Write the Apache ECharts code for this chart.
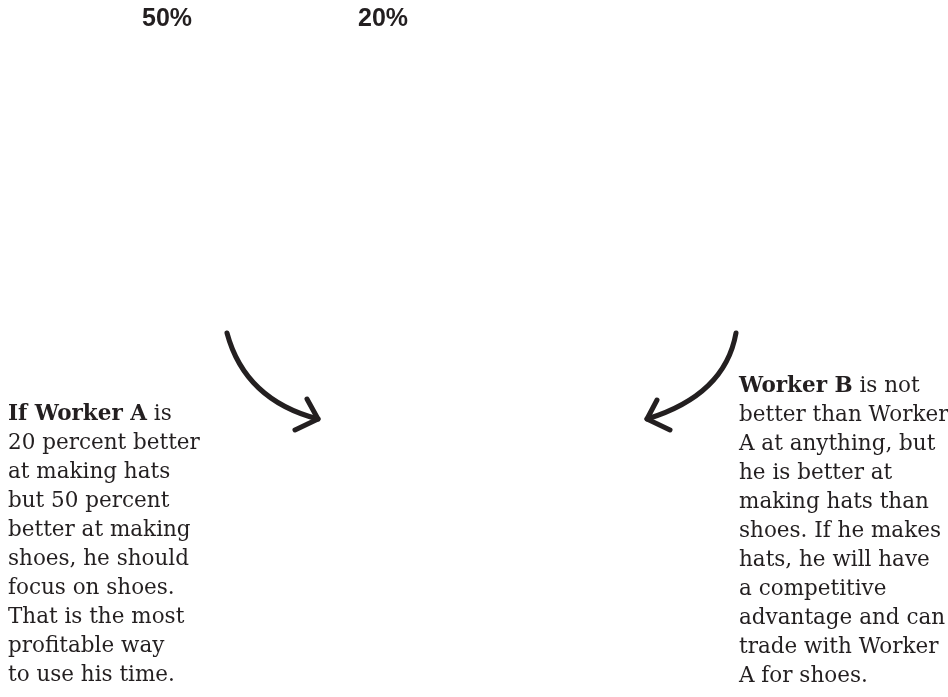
<!DOCTYPE html>
<html>
<head>
<meta charset="utf-8">
<script src="https://cdn.jsdelivr.net/npm/echarts@6/dist/echarts.min.js"></script>
<style>
  html, body { margin: 0; padding: 0; background: #fff; }
  #main { width: 948px; height: 697px; }
</style>
</head>
<body>
<div id="main"></div>
<script>
// percentages shown at the top
var pctLabels = ['50%', '20%'];
var pctX = [167, 383];

// text blocks: bold lead-in + rest, line by line
var leftLead = 'If Worker A';
var leftLines = [' is', '20 percent better', 'at making hats', 'but 50 percent',
  'better at making', 'shoes, he should', 'focus on shoes.', 'That is the most',
  'profitable way', 'to use his time.'];
var rightLead = 'Worker B';
var rightLines = [' is not', 'better than Worker', 'A at anything, but', 'he is better at',
  'making hats than', 'shoes. If he makes', 'hats, he will have', 'a competitive',
  'advantage and can', 'trade with Worker', 'A for shoes.'];

var ink = '#231f20';
var chart = echarts.init(document.getElementById('main'));

function block(lead, lines) {
  return '{b|' + lead + '}{n|' + lines[0] + '}\n' +
    lines.slice(1).map(function (l) { return '{n|' + l + '}'; }).join('\n');
}
var rich = {
  b: { fontFamily: 'DejaVu Serif', fontWeight: 'bold', fontSize: 21.5, lineHeight: 29, fill: ink },
  n: { fontFamily: 'DejaVu Serif', fontWeight: 'normal', fontSize: 21.5, lineHeight: 29, fill: ink }
};

var graphics = [];
pctLabels.forEach(function (t, i) {
  graphics.push({
    type: 'text', x: pctX[i], y: 19,
    style: { text: t, fontFamily: 'Liberation Sans', fontWeight: 'bold', fontSize: 25, fill: ink,
      align: 'center', verticalAlign: 'middle' }
  });
});
graphics.push({
  type: 'text', x: 8, y: 400,
  style: { text: block(leftLead, leftLines), rich: rich, fill: ink, verticalAlign: 'top' }
});
graphics.push({
  type: 'text', x: 739, y: 372,
  style: { text: block(rightLead, rightLines), rich: rich, fill: ink, verticalAlign: 'top' }
});
// hand-drawn arrows
var arrowStyle = { stroke: ink, lineWidth: 5, fill: null, lineCap: 'round', lineJoin: 'round' };
graphics.push({
  type: 'bezierCurve', shape: { x1: 227, y1: 333, cpx1: 245, cpy1: 400, x2: 318, y2: 419 },
  style: arrowStyle
});
graphics.push({
  type: 'polyline', shape: { points: [[307, 399], [318, 419], [295, 430]] },
  style: arrowStyle
});
graphics.push({
  type: 'bezierCurve', shape: { x1: 736, y1: 333, cpx1: 725, cpy1: 395, x2: 647, y2: 419 },
  style: arrowStyle
});
graphics.push({
  type: 'polyline', shape: { points: [[657, 400], [647, 419], [670, 430]] },
  style: arrowStyle
});

chart.setOption({
  backgroundColor: '#fff',
  animation: false,
  graphic: graphics
});
</script>
</body>
</html>
